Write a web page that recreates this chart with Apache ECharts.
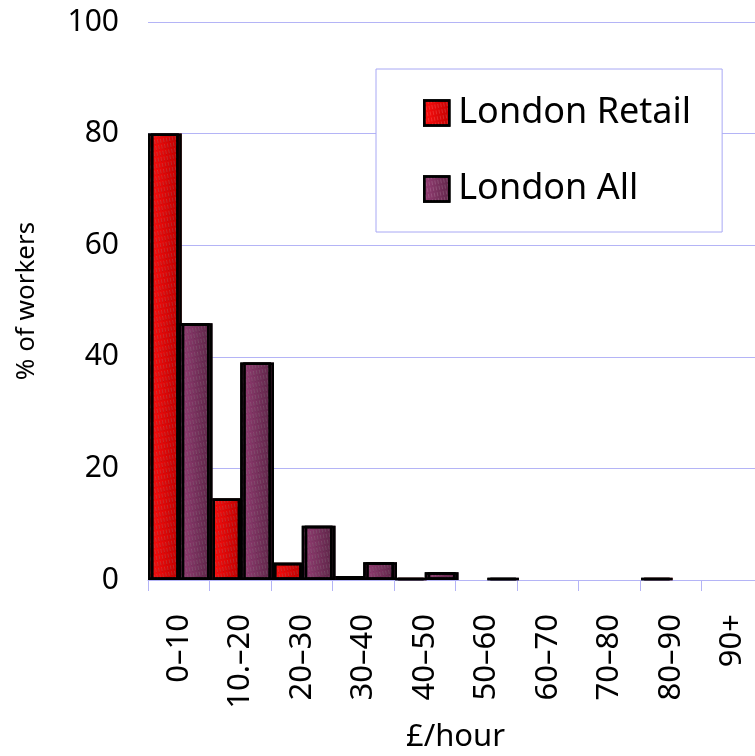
<!DOCTYPE html>
<html>
<head>
<meta charset="utf-8">
<script src="https://cdn.jsdelivr.net/npm/echarts@6/dist/echarts.min.js"></script>
<style>
  html, body { margin: 0; padding: 0; background: #fff; }
  #chart { width: 755px; height: 756px; }
</style>
</head>
<body>
<div id="chart"></div>
<script>
// Hourly pay bands (£/hour)
const payBands = ['0–10', '10.–20', '20–30', '30–40', '40–50', '50–60', '60–70', '70–80', '80–90', '90+'];
// Share of workers in each band (%)
const londonRetail = [80, 14.6, 3.1, 0.7, 0.4, 0, 0, 0, 0.4, 0];
const londonAll = [46, 39, 9.7, 3.2, 1.4, 0.4, 0, 0, 0, 0];
// Value axis ticks
const yTicks = [0, 20, 40, 60, 80, 100];

const FONT = '"Noto Sans", "Open Sans", sans-serif';
const GRID_COLOR = '#b4b4f6';

// Empty bands get no bar at all
const asBars = values => values.map(v => (v === 0 ? '-' : v));

const redFill = new echarts.graphic.LinearGradient(0, 0, 1, 0, [
  { offset: 0, color: '#ff1010' },
  { offset: 1, color: '#c00000' }
]);
const purpleFill = new echarts.graphic.LinearGradient(0, 0, 1, 0, [
  { offset: 0, color: '#973f76' },
  { offset: 1, color: '#5e2548' }
]);

// Fine woven texture over the bar fills
const weave = {
  symbol: 'rect',
  symbolSize: 1,
  dashArrayX: [1, 2],
  dashArrayY: [4, 2],
  rotation: -0.2,
  color: 'rgba(255,255,255,0.14)'
};

const chart = echarts.init(document.getElementById('chart'), null, { renderer: 'canvas' });

chart.setOption({
  animation: false,
  backgroundColor: '#ffffff',
  textStyle: { fontFamily: FONT },
  grid: { left: 148, top: 22, bottom: 176, right: -8, containLabel: false, outerBoundsMode: 'none' },
  legend: {
    left: 376,
    top: 69,
    orient: 'vertical',
    padding: [24, 31, 23, 47],
    itemGap: 36,
    itemWidth: 25,
    itemHeight: 25,
    icon: 'rect',
    borderColor: '#a8a8f4',
    borderWidth: 1,
    backgroundColor: '#ffffff',
    textStyle: { fontFamily: FONT, fontSize: 36, color: '#000', lineHeight: 40, padding: [0, 0, 0, 4] },
    itemStyle: { borderColor: '#000', borderWidth: 2.5 },
    data: ['London Retail', 'London All']
  },
  xAxis: {
    type: 'category',
    data: payBands,
    name: '£/hour',
    nameLocation: 'middle',
    nameGap: 142,
    nameTextStyle: { fontFamily: FONT, fontSize: 31, color: '#000' },
    axisLine: { show: true, lineStyle: { color: GRID_COLOR, width: 1 } },
    axisTick: { show: true, length: 11, alignWithLabel: false, lineStyle: { color: GRID_COLOR } },
    axisLabel: { rotate: 90, margin: 34, fontFamily: FONT, fontSize: 31, color: '#000', interval: 0 },
    splitLine: { show: false }
  },
  yAxis: {
    type: 'value',
    min: yTicks[0],
    max: yTicks[yTicks.length - 1],
    interval: 20,
    name: '% of workers',
    nameLocation: 'middle',
    nameRotate: 90,
    nameGap: 108,
    nameTextStyle: { fontFamily: FONT, fontSize: 26, color: '#000' },
    axisLine: { show: false },
    axisTick: { show: false },
    axisLabel: { margin: 29, fontFamily: FONT, fontSize: 30, color: '#000' },
    splitLine: { show: true, lineStyle: { color: GRID_COLOR, width: 1 } }
  },
  series: [
    {
      name: 'London Retail',
      type: 'bar',
      data: asBars(londonRetail),
      barGap: '0%',
      barCategoryGap: '0%',
      itemStyle: {
        color: redFill,
        decal: weave,
        borderColor: '#000',
        borderWidth: 2.5,
        shadowColor: 'rgba(120,0,0,0.9)',
        shadowOffsetX: 3,
        shadowOffsetY: 0,
        shadowBlur: 0
      }
    },
    {
      name: 'London All',
      type: 'bar',
      data: asBars(londonAll),
      barGap: '0%',
      barCategoryGap: '0%',
      itemStyle: {
        color: purpleFill,
        decal: weave,
        borderColor: '#000',
        borderWidth: 2.5,
        shadowColor: 'rgba(60,15,40,0.9)',
        shadowOffsetX: 3,
        shadowOffsetY: 0,
        shadowBlur: 0
      }
    }
  ]
});
</script>
</body>
</html>
